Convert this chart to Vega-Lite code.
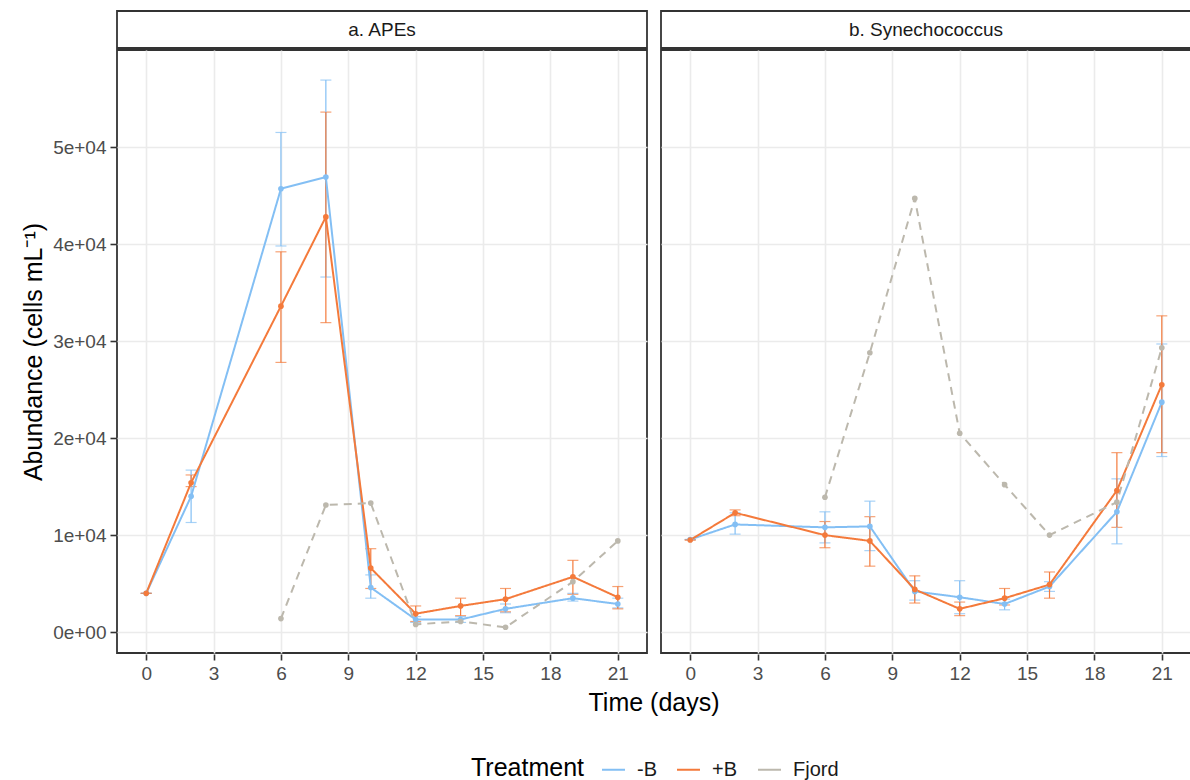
{
  "$schema": "https://vega.github.io/schema/vega-lite/v6.json",
  "background": "white",
  "padding": {"left": 21, "top": 10, "right": 0, "bottom": 0},
  "spacing": 0,
  "datasets": {
    "d": [
      {"panel": "a. APEs", "Treatment": "-B", "t": 0, "mean": 4000, "lo": 4000, "hi": 4000},
      {"panel": "a. APEs", "Treatment": "-B", "t": 2, "mean": 14000, "lo": 11300, "hi": 16700},
      {"panel": "a. APEs", "Treatment": "-B", "t": 6, "mean": 45700, "lo": 39800, "hi": 51500},
      {"panel": "a. APEs", "Treatment": "-B", "t": 8, "mean": 46900, "lo": 36600, "hi": 56900},
      {"panel": "a. APEs", "Treatment": "-B", "t": 10, "mean": 4600, "lo": 3500, "hi": 5900},
      {"panel": "a. APEs", "Treatment": "-B", "t": 12, "mean": 1300, "lo": 1000, "hi": 1600},
      {"panel": "a. APEs", "Treatment": "-B", "t": 14, "mean": 1300, "lo": 1000, "hi": 1600},
      {"panel": "a. APEs", "Treatment": "-B", "t": 16, "mean": 2400, "lo": 2000, "hi": 2900},
      {"panel": "a. APEs", "Treatment": "-B", "t": 19, "mean": 3500, "lo": 3200, "hi": 4000},
      {"panel": "a. APEs", "Treatment": "-B", "t": 21, "mean": 2900, "lo": 2500, "hi": 3500},
      {"panel": "a. APEs", "Treatment": "+B", "t": 0, "mean": 4000, "lo": 4000, "hi": 4000},
      {"panel": "a. APEs", "Treatment": "+B", "t": 2, "mean": 15400, "lo": 15000, "hi": 16200},
      {"panel": "a. APEs", "Treatment": "+B", "t": 6, "mean": 33600, "lo": 27800, "hi": 39200},
      {"panel": "a. APEs", "Treatment": "+B", "t": 8, "mean": 42800, "lo": 31900, "hi": 53600},
      {"panel": "a. APEs", "Treatment": "+B", "t": 10, "mean": 6600, "lo": 4500, "hi": 8600},
      {"panel": "a. APEs", "Treatment": "+B", "t": 12, "mean": 1900, "lo": 1100, "hi": 2700},
      {"panel": "a. APEs", "Treatment": "+B", "t": 14, "mean": 2700, "lo": 1700, "hi": 3500},
      {"panel": "a. APEs", "Treatment": "+B", "t": 16, "mean": 3400, "lo": 2100, "hi": 4500},
      {"panel": "a. APEs", "Treatment": "+B", "t": 19, "mean": 5700, "lo": 3900, "hi": 7400},
      {"panel": "a. APEs", "Treatment": "+B", "t": 21, "mean": 3600, "lo": 2400, "hi": 4700},
      {"panel": "a. APEs", "Treatment": "Fjord", "t": 6, "mean": 1400},
      {"panel": "a. APEs", "Treatment": "Fjord", "t": 8, "mean": 13100},
      {"panel": "a. APEs", "Treatment": "Fjord", "t": 10, "mean": 13300},
      {"panel": "a. APEs", "Treatment": "Fjord", "t": 12, "mean": 800},
      {"panel": "a. APEs", "Treatment": "Fjord", "t": 14, "mean": 1100},
      {"panel": "a. APEs", "Treatment": "Fjord", "t": 16, "mean": 500},
      {"panel": "a. APEs", "Treatment": "Fjord", "t": 19, "mean": 5200},
      {"panel": "a. APEs", "Treatment": "Fjord", "t": 21, "mean": 9400},
      {"panel": "b. Synechococcus", "Treatment": "-B", "t": 0, "mean": 9550, "lo": 9550, "hi": 9550},
      {"panel": "b. Synechococcus", "Treatment": "-B", "t": 2, "mean": 11100, "lo": 10100, "hi": 12300},
      {"panel": "b. Synechococcus", "Treatment": "-B", "t": 6, "mean": 10800, "lo": 9200, "hi": 12400},
      {"panel": "b. Synechococcus", "Treatment": "-B", "t": 8, "mean": 10900, "lo": 8400, "hi": 13500},
      {"panel": "b. Synechococcus", "Treatment": "-B", "t": 10, "mean": 4200, "lo": 3300, "hi": 5300},
      {"panel": "b. Synechococcus", "Treatment": "-B", "t": 12, "mean": 3600, "lo": 1900, "hi": 5300},
      {"panel": "b. Synechococcus", "Treatment": "-B", "t": 14, "mean": 2900, "lo": 2300, "hi": 3400},
      {"panel": "b. Synechococcus", "Treatment": "-B", "t": 16, "mean": 4700, "lo": 4200, "hi": 5200},
      {"panel": "b. Synechococcus", "Treatment": "-B", "t": 19, "mean": 12400, "lo": 9100, "hi": 15800},
      {"panel": "b. Synechococcus", "Treatment": "-B", "t": 21, "mean": 23700, "lo": 18100, "hi": 29700},
      {"panel": "b. Synechococcus", "Treatment": "+B", "t": 0, "mean": 9500, "lo": 9500, "hi": 9500},
      {"panel": "b. Synechococcus", "Treatment": "+B", "t": 2, "mean": 12300, "lo": 12000, "hi": 12600},
      {"panel": "b. Synechococcus", "Treatment": "+B", "t": 6, "mean": 10000, "lo": 8700, "hi": 11400},
      {"panel": "b. Synechococcus", "Treatment": "+B", "t": 8, "mean": 9400, "lo": 6800, "hi": 11900},
      {"panel": "b. Synechococcus", "Treatment": "+B", "t": 10, "mean": 4400, "lo": 3000, "hi": 5800},
      {"panel": "b. Synechococcus", "Treatment": "+B", "t": 12, "mean": 2400, "lo": 1700, "hi": 3100},
      {"panel": "b. Synechococcus", "Treatment": "+B", "t": 14, "mean": 3500, "lo": 2800, "hi": 4500},
      {"panel": "b. Synechococcus", "Treatment": "+B", "t": 16, "mean": 4900, "lo": 3500, "hi": 6200},
      {"panel": "b. Synechococcus", "Treatment": "+B", "t": 19, "mean": 14600, "lo": 10800, "hi": 18500},
      {"panel": "b. Synechococcus", "Treatment": "+B", "t": 21, "mean": 25500, "lo": 18500, "hi": 32600},
      {"panel": "b. Synechococcus", "Treatment": "Fjord", "t": 6, "mean": 13900},
      {"panel": "b. Synechococcus", "Treatment": "Fjord", "t": 8, "mean": 28800},
      {"panel": "b. Synechococcus", "Treatment": "Fjord", "t": 10, "mean": 44700},
      {"panel": "b. Synechococcus", "Treatment": "Fjord", "t": 12, "mean": 20500},
      {"panel": "b. Synechococcus", "Treatment": "Fjord", "t": 14, "mean": 15200},
      {"panel": "b. Synechococcus", "Treatment": "Fjord", "t": 16, "mean": 10000},
      {"panel": "b. Synechococcus", "Treatment": "Fjord", "t": 19, "mean": 13400},
      {"panel": "b. Synechococcus", "Treatment": "Fjord", "t": 21, "mean": 29300}
    ]
  },
  "vconcat": [
    {
      "data": {"name": "d"},
      "transform": [{"aggregate": [{"op": "count", "as": "n"}], "groupby": ["panel"]}],
      "facet": {"column": {"field": "panel", "type": "nominal", "header": {"labels": false, "title": null}}},
      "spacing": {"column": 12},
      "spec": {
        "width": 530,
        "height": 37,
        "mark": {"type": "text", "fontSize": 19, "color": "#1A1A1A"},
        "encoding": {
          "text": {"field": "panel", "type": "nominal"},
          "y": {"datum": 28950, "type": "quantitative", "scale": {"domain": [-2200, 60100], "nice": false, "zero": false}, "axis": {"values": [28950], "labelExpr": "replace(format(datum.value, '.0e'), 'e+', 'e+0')", "labelOpacity": 0, "tickOpacity": 0, "grid": false, "title": " ", "titlePadding": 6}}
        }
      }
    },
    {
      "data": {"name": "d"},
      "facet": {"column": {"field": "panel", "type": "nominal", "header": {"labels": false, "title": "Time (days)", "titleOrient": "bottom", "titleFontSize": 25, "titleFontWeight": "normal", "titleColor": "black", "titlePadding": -2}}},
      "spacing": {"column": 12},
      "spec": {
        "width": 530,
        "height": 603,
        "layer": [
          {
            "transform": [{"filter": "isValid(datum.lo)"}],
            "mark": {"type": "errorbar", "ticks": true, "size": 11, "thickness": 1.2},
            "encoding": {
              "x": {"field": "t", "type": "quantitative", "scale": {"domain": [-1.3, 22.3], "nice": false, "zero": false}, "axis": {"values": [0, 3, 6, 9, 12, 15, 18, 21], "title": null}},
              "y": {"field": "lo", "type": "quantitative", "scale": {"domain": [-2150, 60000], "nice": false, "zero": false}, "axis": {"values": [0, 10000, 20000, 30000, 40000, 50000], "labelExpr": "replace(format(datum.value, '.0e'), 'e+', 'e+0')", "title": "Abundance (cells mL⁻¹)", "titlePadding": 6}},
              "y2": {"field": "hi"},
              "color": {"field": "Treatment", "type": "nominal", "scale": {"domain": ["-B", "+B", "Fjord"], "range": ["#83BFF4", "#F47A3B", "#BCB8AD"]}, "legend": {"title": "Treatment", "orient": "none", "legendX": 354, "legendY": 746, "encode": {"symbols": {"update": {"strokeDash": {"value": [1, 0]}}}}}}
            }
          },
          {
            "mark": {"type": "line", "strokeWidth": 2},
            "encoding": {
              "x": {"field": "t", "type": "quantitative"},
              "y": {"field": "mean", "type": "quantitative", "title": "Abundance (cells mL⁻¹)"},
              "color": {"field": "Treatment", "type": "nominal"},
              "strokeDash": {"condition": {"test": "datum.Treatment == 'Fjord'", "value": [8, 6]}, "value": [1, 0]}
            }
          },
          {
            "mark": {"type": "circle", "size": 32, "opacity": 1},
            "encoding": {
              "x": {"field": "t", "type": "quantitative"},
              "y": {"field": "mean", "type": "quantitative", "title": "Abundance (cells mL⁻¹)"},
              "color": {"field": "Treatment", "type": "nominal"}
            }
          }
        ]
      }
    }
  ],
  "config": {
    "font": "Liberation Sans",
    "view": {"stroke": "#333333", "strokeWidth": 1.8},
    "axis": {
      "gridColor": "#EBEBEB",
      "gridWidth": 1.6,
      "domain": false,
      "tickColor": "#333333",
      "tickSize": 6,
      "tickWidth": 1.6,
      "labelColor": "#4D4D4D",
      "labelFontSize": 19,
      "labelPadding": 4,
      "titleFontSize": 25,
      "titleFontWeight": "normal",
      "titleColor": "black"
    },
    "legend": {
      "direction": "horizontal",
      "titleOrient": "left",
      "titleFontSize": 25,
      "titleFontWeight": "normal",
      "titleColor": "black",
      "labelFontSize": 20,
      "labelColor": "#1A1A1A",
      "labelOffset": 11,
      "symbolType": "stroke",
      "symbolStrokeWidth": 2,
      "symbolSize": 529,
      "columnPadding": 16,
      "titlePadding": 16
    }
  }
}
